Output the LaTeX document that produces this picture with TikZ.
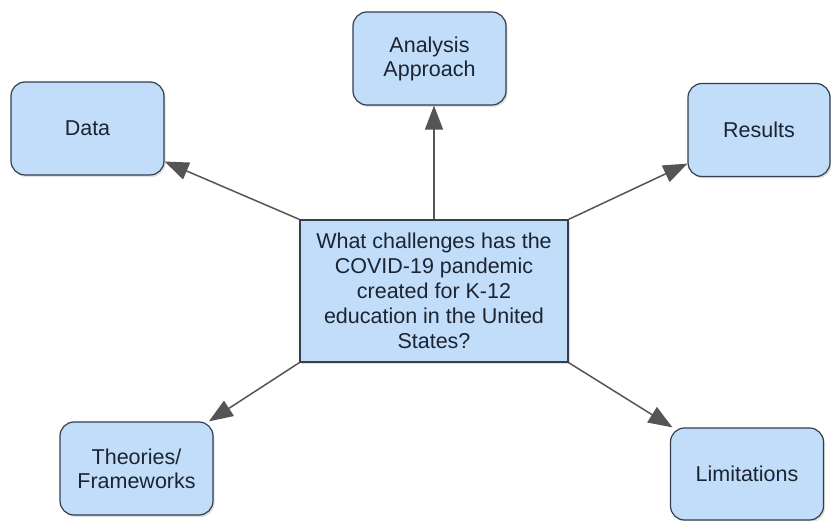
\documentclass[tikz,border=0pt]{standalone}
\usepackage{fontspec}
\setmainfont{Liberation Sans}
\usetikzlibrary{arrows.meta,shadows}
\definecolor{boxfill}{RGB}{193,221,249}
\definecolor{boxline}{RGB}{52,62,76}
\definecolor{arrowgray}{RGB}{85,85,85}
\definecolor{textnavy}{RGB}{28,36,50}

\begin{document}
\begin{tikzpicture}[x=1pt, y=-1pt,
    topic/.style={rectangle, rounded corners=14pt, draw=boxline, line width=1.2pt,
        fill=boxfill, minimum width=153pt, minimum height=93pt, align=center,
        text=textnavy, font=\fontsize{21.5}{24}\selectfont,
        drop shadow={opacity=0.25, shadow xshift=1.5pt, shadow yshift=-2pt}},
    question/.style={rectangle, draw=boxline, line width=1.2pt, fill=boxfill,
        minimum width=268pt, minimum height=142pt, align=center,
        text=textnavy, font=\fontsize{21.5}{25}\selectfont,
        drop shadow={opacity=0.25, shadow xshift=1.5pt, shadow yshift=-2pt}},
    link/.style={draw=arrowgray, line width=1.5pt, -{Triangle[length=24pt,width=18pt]}}
]
    \useasboundingbox (0,0) rectangle (831,521);
    \node[topic] (data) at (87.5,128.5) {Data};
    \node[topic] (approach) at (429.5,58.5) {Analysis\\Approach};
    \node[topic, minimum width=142pt] (results) at (759,130) {Results};
    \node[question] (question) at (434,291) {What challenges has the\\COVID-19 pandemic\\created for K-12\\education in the United\\States?};
    \node[topic] (theories) at (136.5,468.5) {Theories/\\Frameworks};
    \node[topic, minimum height=92pt] (limits) at (747,474) {Limitations};
    \draw[link] (question.north west) -- (data);
    \draw[link] (question.north) -- (question.north |- approach.south);
    \draw[link] (question.north east) -- (results);
    \draw[link] (question.south west) -- (theories);
    \draw[link] (question.south east) -- (limits);
\end{tikzpicture}
\end{document}
